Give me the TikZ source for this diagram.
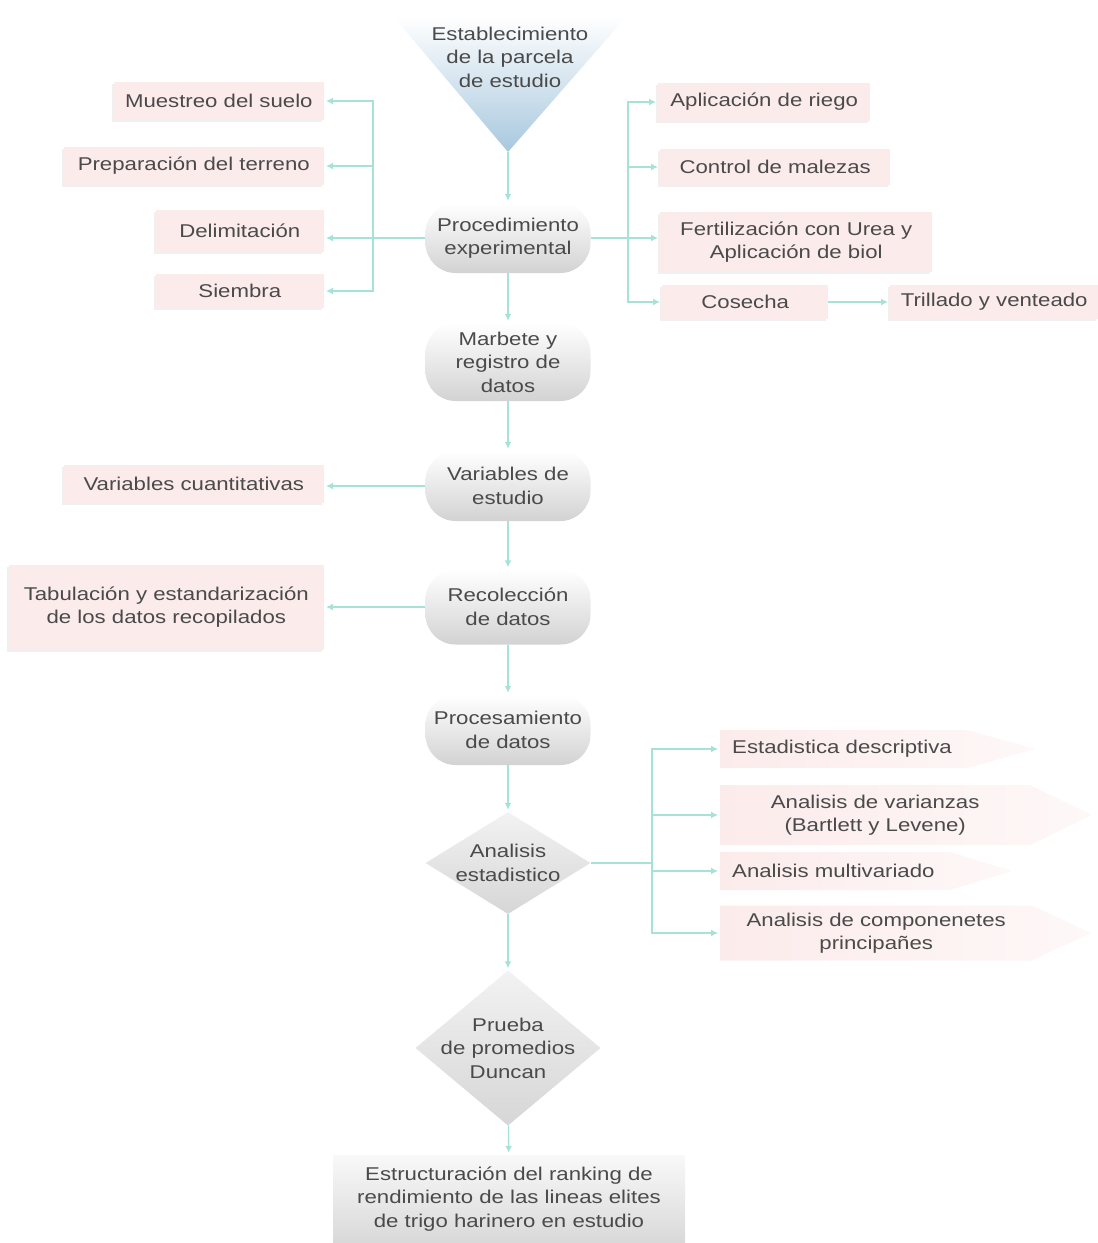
\documentclass[tikz,border=0pt]{standalone}
\usepackage{fontspec}
\setmainfont[FakeStretch=1.2]{Liberation Sans}
\usetikzlibrary{arrows.meta, shapes.geometric, shapes.symbols, shadows}

\definecolor{linkcol}{HTML}{A6E3D6}
\definecolor{boxpink}{HTML}{FCEBEB}
\definecolor{txtgray}{HTML}{4A4A4A}
\definecolor{triblue}{HTML}{A8C8DE}

\tikzset{
  base/.style={text=txtgray, font=\fontsize{18.5}{23.5}\selectfont, align=center, inner sep=0pt},
  pinkbox/.style={base, fill=boxpink, minimum height=38pt, drop shadow={opacity=0.12, shadow xshift=-2pt, shadow yshift=-2pt}},
  stadium/.style={base, rounded corners=30pt, top color=white, bottom color=gray!35, minimum width=165pt, minimum height=70pt},
  decision/.style={base, diamond, top color=gray!10, bottom color=gray!32, inner sep=-10pt},
  stat/.style={base, signal, signal to=east, left color=boxpink, right color=boxpink!35, inner xsep=12pt, anchor=west},
  link/.style={draw=linkcol, line width=1.3pt, -{Latex[length=7pt,width=7pt]}, shorten >=2pt},
  plain/.style={draw=linkcol, line width=1.3pt}
}

\begin{document}
\begin{tikzpicture}[x=1pt,y=1pt]
\useasboundingbox (0,0) rectangle (1098,-1243);

% Start of the study plot
\shade[top color=white, bottom color=triblue] (393,-16) -- (627,-16) -- (508,-152) -- cycle;
\coordinate (apex) at (508,-152);
\node[base] (parcela) at (510,-57) {Establecimiento\\de la parcela\\de estudio};

% Main column
\node[stadium] (proc) at (508,-238) {Procedimiento\\experimental};
\node[stadium, minimum height=78pt] (marbete) at (508,-362) {Marbete y\\registro de\\datos};
\node[stadium] (vars) at (508,-486) {Variables de\\estudio};
\node[stadium, minimum height=75pt] (recol) at (508,-607) {Recolección\\de datos};
\node[stadium] (procesa) at (508,-730) {Procesamiento\\de datos};
\node[decision, minimum width=165pt, minimum height=100pt] (analisis) at (508,-863) {Analisis\\estadistico};
\node[decision, minimum width=185pt, minimum height=130pt] (prueba) at (508,-1048) {Prueba\\de promedios\\Duncan};
\node[base, top color=gray!5, bottom color=gray!30, minimum width=352pt, minimum height=88pt] (ranking) at (509,-1199)
  {Estructuración del ranking de\\rendimiento de las lineas elites\\de trigo harinero en estudio};

% Left side boxes
\node[pinkbox, anchor=east, minimum width=210pt] (muestreo) at (324,-101) {Muestreo del suelo};
\node[pinkbox, anchor=east, minimum width=260pt] (prep) at (324,-166) {Preparación del terreno};
\node[pinkbox, anchor=east, minimum width=168pt, minimum height=42pt] (delim) at (324,-231) {Delimitación};
\node[pinkbox, anchor=east, minimum width=168pt, minimum height=34pt] (siembra) at (324,-291) {Siembra};
\node[pinkbox, anchor=east, minimum width=260pt] (cuanti) at (324,-484) {Variables cuantitativas};
\node[pinkbox, anchor=east, minimum width=315pt, minimum height=85pt] (tabula) at (324,-607)
  {Tabulación y estandarización\\de los datos recopilados};

% Right side boxes
\node[pinkbox, anchor=west, minimum width=212pt] (riego) at (658,-102) {Aplicación de riego};
\node[pinkbox, anchor=west, minimum width=230pt, minimum height=36pt] (malezas) at (660,-167) {Control de malezas};
\node[pinkbox, anchor=west, minimum width=272pt, minimum height=60pt] (fert) at (660,-242)
  {Fertilización con Urea y\\Aplicación de biol};
\node[pinkbox, anchor=west, minimum width=166pt, minimum height=34pt] (cosecha) at (662,-302) {Cosecha};
\node[pinkbox, anchor=west, minimum width=208pt, minimum height=34pt] (trillado) at (890,-302) {Trillado y venteado};

% Statistical analyses
\node[stat, text width=223pt, align=left, minimum height=38pt, signal pointer angle=31] (descr) at (720,-749) {Estadistica descriptiva};
\node[stat, text width=286pt, minimum height=60pt, signal pointer angle=52] (varianzas) at (720,-815)
  {Analisis de varianzas\\(Bartlett y Levene)};
\node[stat, text width=206pt, align=left, minimum height=38pt, signal pointer angle=34] (multi) at (720,-871) {Analisis multivariado};
\node[stat, text width=288pt, minimum height=55pt, signal pointer angle=50] (compon) at (720,-933)
  {Analisis de componenetes\\principañes};

% Main flow
\draw[link] (apex) -- (proc);
\draw[link] (proc) -- (marbete);
\draw[link] (marbete) -- (vars);
\draw[link] (vars) -- (recol);
\draw[link] (recol) -- (procesa);
\draw[link] (procesa) -- (analisis);
\draw[link] (analisis) -- (prueba);
\draw[link] (prueba) -- (ranking);

% Branches
\coordinate (lbus) at (373,-238);
\coordinate (rbus) at (628,-238);
\coordinate (sbus) at (652,-863);
\draw[link] (proc.west) -- (proc.west -| delim.east);
\foreach \n in {muestreo,prep,siembra}
  \draw[link] (lbus) |- (\n.east);
\draw[link] (proc.east) -- (proc.east -| fert.west);
\foreach \n in {riego,malezas,cosecha}
  \draw[link] (rbus) |- (\n.west);
\draw[link] (cosecha) -- (trillado);
\draw[link] (vars.west) -- (vars.west -| cuanti.east);
\draw[link] (recol.west) -- (recol.west -| tabula.east);
\draw[plain] (analisis.east) -- (sbus);
\foreach \n in {descr,varianzas,multi,compon}
  \draw[link] (sbus) |- (\n.west);

\end{tikzpicture}
\end{document}
